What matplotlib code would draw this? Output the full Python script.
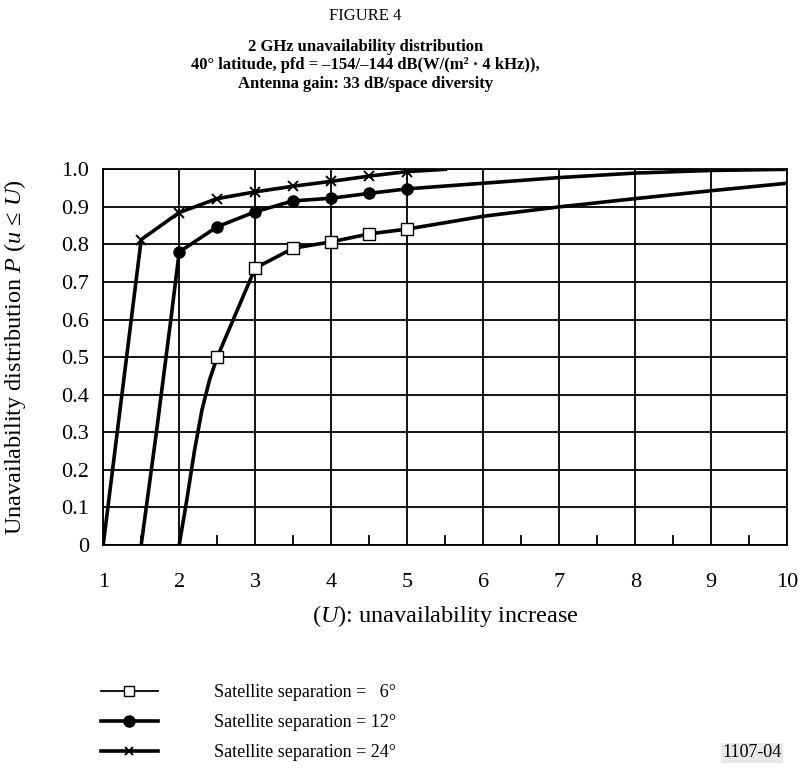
import matplotlib
matplotlib.use("Agg")
import matplotlib.pyplot as plt
from matplotlib.ticker import MultipleLocator

plt.rcParams['font.family'] = ['Liberation Serif', 'DejaVu Serif']
plt.rcParams['mathtext.fontset'] = 'custom'
plt.rcParams['mathtext.it'] = 'Liberation Serif:italic'
plt.rcParams['mathtext.rm'] = 'Liberation Serif'

# curve points (line) and which of them carry markers
x_06 = [2.0, 2.1, 2.2, 2.3, 2.4, 2.5, 3.0, 3.5, 4.0, 4.5, 5.0, 6.0, 7.0, 8.0, 9.0, 10.0]
y_06 = [0.0, 0.12, 0.25, 0.36, 0.44, 0.5, 0.737, 0.79, 0.807, 0.828, 0.841, 0.875, 0.90, 0.922, 0.943, 0.963]
mk_06 = [5, 6, 7, 8, 9, 10]

x_12 = [1.5, 1.7, 1.89, 2.0, 2.5, 3.0, 3.5, 4.0, 4.5, 5.0, 6.0, 7.0, 8.0, 9.0, 10.0]
y_12 = [0.0, 0.3, 0.6, 0.78, 0.847, 0.887, 0.916, 0.923, 0.936, 0.948, 0.963, 0.978, 0.99, 0.997, 1.0]
mk_12 = [3, 4, 5, 6, 7, 8, 9]

x_24 = [1.0, 1.5, 2.0, 2.5, 3.0, 3.5, 4.0, 4.5, 5.0, 5.5]
y_24 = [0.0, 0.813, 0.885, 0.922, 0.94, 0.955, 0.968, 0.982, 0.994, 1.0]
mk_24 = [1, 2, 3, 4, 5, 6, 7, 8]

labels = ["Satellite separation =   6°", "Satellite separation = 12°", "Satellite separation = 24°"]

fig = plt.figure(figsize=(8.0, 7.76), dpi=100)
ax = fig.add_axes([0.129, 0.2977, 0.855, 0.4841])

l1, = ax.plot(x_06, y_06, color='black', lw=2.6, marker='s', markevery=mk_06,
              ms=8.5, mfc='white', mec='black', mew=1.0, zorder=3)
l2, = ax.plot(x_12, y_12, color='black', lw=2.6, marker='o', markevery=mk_12,
              ms=8, mfc='black', mec='black', zorder=3)
l3, = ax.plot(x_24, y_24, color='black', lw=2.6, marker='x', markevery=mk_24,
              ms=7.5, mec='black', mew=1.4, zorder=3)

ax.set_xlim(1, 10)
ax.set_ylim(0, 1.0)
ax.xaxis.set_major_locator(MultipleLocator(1))
ax.yaxis.set_major_locator(MultipleLocator(0.1))
ax.grid(True, which='major', color='black', lw=1.3)
ax.set_yticks([0, 0.1, 0.2, 0.3, 0.4, 0.5, 0.6, 0.7, 0.8, 0.9, 1.0])
ax.set_yticklabels(['0', '0.1', '0.2', '0.3', '0.4', '0.5', '0.6', '0.7', '0.8', '0.9', '1.0'])
ax.tick_params(axis='both', which='major', length=0, labelsize=16)
ax.tick_params(axis='x', pad=20)
ax.tick_params(axis='y', pad=10)
for s in ax.spines.values():
    s.set_linewidth(1.3)

# short half-unit ticks standing up from the x axis
for xm in [1.5, 2.5, 3.5, 4.5, 5.5, 6.5, 7.5, 8.5, 9.5]:
    ax.plot([xm, xm], [0, 0.025], color='black', lw=1.3, zorder=2)

ax.set_ylabel(r'Unavailability distribution $P$ ($u$ ≤ $U$)', fontsize=17.5, labelpad=24)
ax.set_xlabel(r'($U$): unavailability increase', fontsize=17.5, labelpad=8)

fig.text(0.457, 0.979, 'FIGURE 4', ha='center', va='center', fontsize=12)
fig.text(0.457, 0.916, '2 GHz unavailability distribution\n'
         '40° latitude, pfd = –154/–144 dB(W/(m² · 4 kHz)),\n'
         'Antenna gain: 33 dB/space diversity',
         ha='center', va='center', fontsize=12, fontweight='bold', linespacing=1.2)

leg = fig.legend([l1, l2, l3], labels, loc='upper left', bbox_to_anchor=(0.115, 0.13),
                 frameon=False, fontsize=13, handlelength=3.15, handletextpad=3.1,
                 labelspacing=0.72, borderpad=0)
leg.legend_handles[0].set_linewidth(1.3)
leg.legend_handles[0].set_markersize(7)
leg.legend_handles[1].set_markersize(8)
leg.legend_handles[2].set_markersize(6)
for h in leg.legend_handles:
    h.set_markevery([1])

fig.text(0.94, 0.030, '1107-04', ha='center', va='center', fontsize=13,
         bbox=dict(facecolor='#e8e8e8', edgecolor='none', pad=1))

fig.savefig('out.png', dpi=100)
